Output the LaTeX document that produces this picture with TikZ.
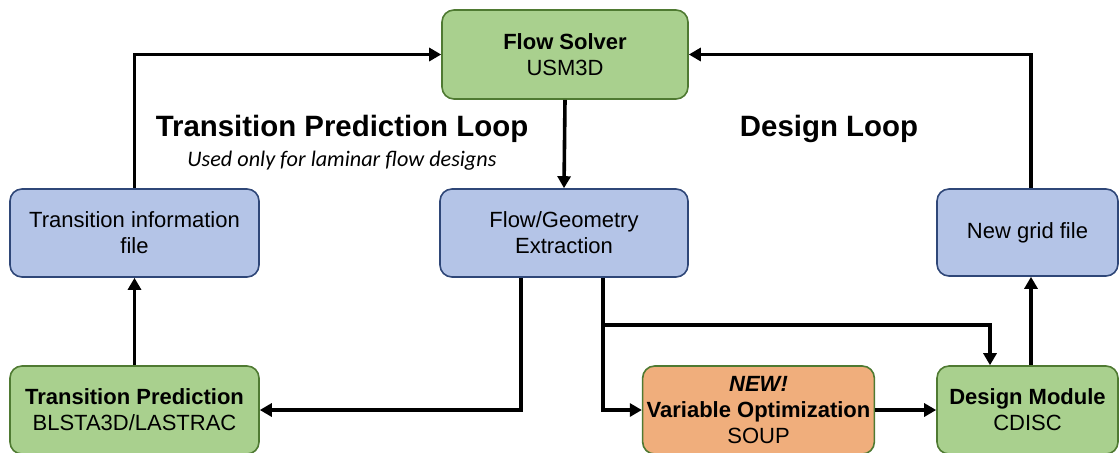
\documentclass[tikz,border=0pt]{standalone}
\usepackage{fontspec}
\setmainfont{Liberation Sans}
\newfontfamily\notefont{Carlito}
\usetikzlibrary{arrows.meta}
\usetikzlibrary{positioning}

\definecolor{greenfill}{HTML}{A9D08E}
\definecolor{greenline}{HTML}{4F7A32}
\definecolor{bluefill}{HTML}{B4C4E7}
\definecolor{blueline}{HTML}{2F4778}
\definecolor{orangefill}{HTML}{F0AE7C}

\tikzset{
  box/.style={draw, rounded corners=6pt, line width=0.8pt, align=center,
    inner sep=2pt, font=\fontsize{11}{13}\selectfont},
  greenbox/.style={box, fill=greenfill, draw=greenline},
  bluebox/.style={box, fill=bluefill, draw=blueline},
  orangebox/.style={box, fill=orangefill, draw=greenline},
  arr/.style={->, line width=1.8pt},
  looptitle/.style={font=\fontsize{14.7}{17}\selectfont\bfseries},
}

\begin{document}
\begin{tikzpicture}[line cap=butt,line join=miter,>={Triangle[width=6.5pt,length=6pt]},x=0.5pt,y=-0.5pt]
\useasboundingbox (0,0) rectangle (1119,452);
\clip (0,0) rectangle (1119,452);
% boxes
\node[greenbox, minimum width=123pt, minimum height=44.5pt] (solver) at (565,54.5) {\textbf{Flow Solver}\\USM3D};
\node[bluebox, minimum width=124.5pt, minimum height=44pt] (tinfo) at (134.5,233) {Transition information\\file};
\node[bluebox, minimum width=124pt, minimum height=44pt] (extract) at (564,233) {Flow/Geometry\\Extraction};
\node[bluebox, minimum width=90.5pt, minimum height=43.5pt] (grid) at (1027.5,232.5) {New grid file};
\node[greenbox, minimum width=124.5pt, minimum height=44pt] (tpred) at (134.5,410) {\textbf{Transition Prediction}\\BLSTA3D/LASTRAC};
\node[orangebox, minimum width=115.5pt, minimum height=44pt] (varopt) at (758.5,410) {\textbf{\itshape NEW!}\\\textbf{Variable Optimization}\\SOUP};
\node[greenbox, minimum width=90.5pt, minimum height=44pt] (design) at (1027.5,410) {\textbf{Design Module}\\CDISC};
% loop titles
\node[looptitle] (tploop) at (342,129) {Transition Prediction Loop};
\node[font=\notefont\itshape\fontsize{11.1}{13}\selectfont] (tpnote) at (342,161) {Used only for laminar flow designs};
\node[looptitle] (dloop) at (829,129) {Design Loop};
% connectors
\coordinate (split) at (603,325);
\draw[arr] (tinfo.north) |- (solver.west);
\draw[arr] (solver.south) -- (extract.north);
\draw[arr] ([xshift=1.75pt]grid.north) |- (solver.east);
\draw[arr] ([xshift=-21.5pt]extract.south) |- (tpred.east);
\draw[arr] ([xshift=19.5pt]extract.south) |- (varopt.west);
\draw[arr] (split) -| ([xshift=-18.75pt]design.north);
\draw[arr] (varopt) -- (design);
\draw[arr] ([xshift=1.75pt]design.north) -- ([xshift=1.75pt]grid.south);
\draw[arr] (tpred) -- (tinfo);
\end{tikzpicture}
\end{document}
